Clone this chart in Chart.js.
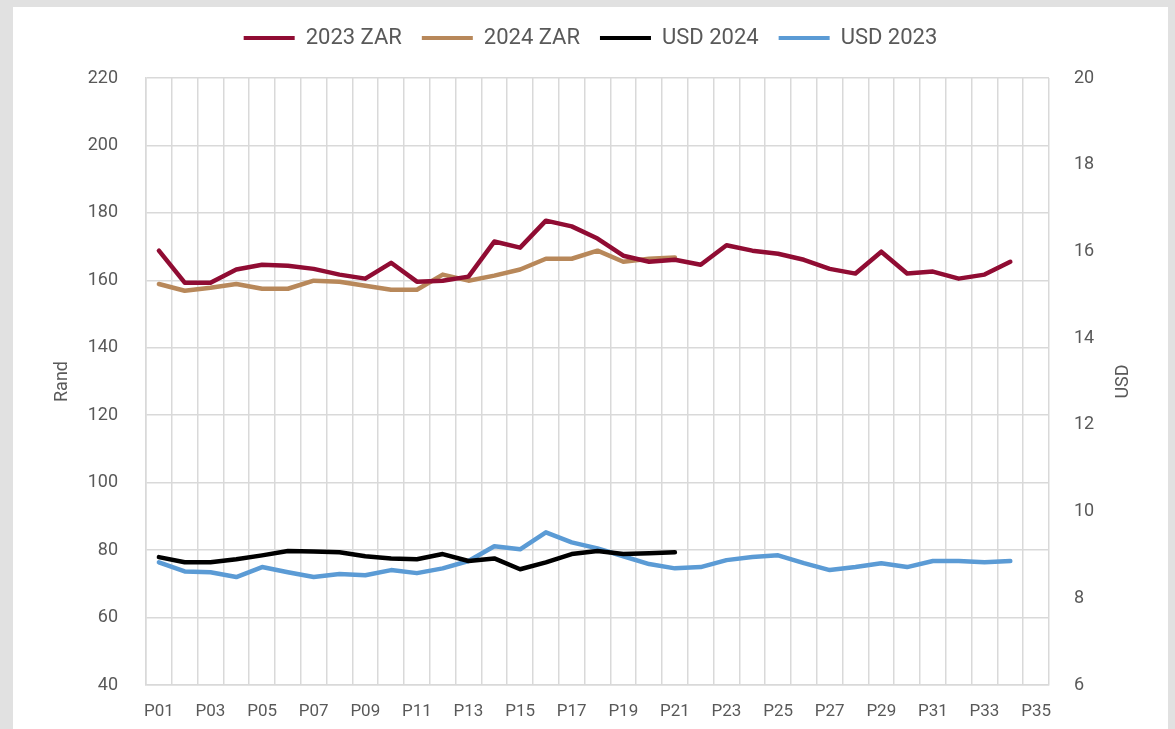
<!DOCTYPE html>
<html>
<head>
<meta charset="utf-8">
<script src="https://cdn.jsdelivr.net/npm/chart.js@4/dist/chart.umd.min.js"></script>
<style>
  body { margin: 0; background: #e1e1e1; width: 1175px; height: 729px; overflow: hidden; }
  #panel { position: absolute; left: 13px; top: 7px; width: 1155px; height: 722px; background: #fff; }
</style>
</head>
<body>
<div id="panel"><canvas id="myChart" width="1155" height="722"></canvas></div>
<script>
// periods P01..P35
var periodos = [];
for (var i = 1; i <= 35; i++) { periodos.push('P' + (i < 10 ? '0' + i : i)); }

var zar2023 = [168.8, 159.3, 159.3, 163.2, 164.6, 164.3, 163.4, 161.7, 160.5, 165.2,
               159.6, 159.9, 161.1, 171.5, 169.7, 177.7, 176.0, 172.4, 167.3, 165.5,
               166.1, 164.6, 170.4, 168.8, 167.9, 166.1, 163.4, 162.0, 168.5, 162.0,
               162.6, 160.5, 161.7, 165.5];
var zar2024 = [158.9, 156.9, 157.8, 158.9, 157.5, 157.5, 159.9, 159.6, 158.4, 157.2,
               157.2, 161.7, 159.9, 161.4, 163.2, 166.4, 166.4, 168.8, 165.5, 166.4,
               166.8];
var usd2024 = [8.95, 8.83, 8.83, 8.90, 8.99, 9.09, 9.08, 9.06, 8.97, 8.92,
               8.90, 9.02, 8.86, 8.92, 8.67, 8.83, 9.02, 9.09, 9.02, 9.04,
               9.06];
var usd2023 = [8.83, 8.62, 8.60, 8.49, 8.72, 8.60, 8.49, 8.56, 8.53, 8.65,
               8.58, 8.69, 8.86, 9.20, 9.13, 9.52, 9.29, 9.15, 8.97, 8.79,
               8.69, 8.72, 8.88, 8.95, 8.99, 8.81, 8.65, 8.72, 8.81, 8.72,
               8.86, 8.86, 8.83, 8.86];

var gris = '#595959';
var grilla = '#d9d9d9';
Chart.defaults.font.family = 'Roboto, "Liberation Sans", sans-serif';
Chart.defaults.color = gris;

// right axis title reads bottom-to-top like the left one
var tituloUSD = {
    id: 'tituloUSD',
    afterDraw: function(chart) {
        var ctx = chart.ctx;
        var area = chart.chartArea;
        ctx.save();
        ctx.translate(1110, (area.top + area.bottom) / 2);
        ctx.rotate(-Math.PI / 2);
        ctx.font = '18px Roboto';
        ctx.fillStyle = gris;
        ctx.textAlign = 'center';
        ctx.textBaseline = 'middle';
        ctx.fillText('USD', 0, 0);
        ctx.restore();
    }
};

var ctx = document.getElementById('myChart').getContext('2d');
var chart = new Chart(ctx, {
    type: 'line',
    data: {
        labels: periodos,
        datasets: [
            { label: '2023 ZAR', data: zar2023, borderColor: '#900c33', backgroundColor: '#900c33', yAxisID: 'y' },
            { label: '2024 ZAR', data: zar2024, borderColor: '#b8885a', backgroundColor: '#b8885a', yAxisID: 'y' },
            { label: 'USD 2024', data: usd2024, borderColor: '#000000', backgroundColor: '#000000', yAxisID: 'y1' },
            { label: 'USD 2023', data: usd2023, borderColor: '#5b9bd5', backgroundColor: '#5b9bd5', yAxisID: 'y1' }
        ]
    },
    options: {
        responsive: false,
        animation: false,
        layout: { padding: 0 },
        elements: {
            line: { borderWidth: 4.5, tension: 0, borderCapStyle: 'round', borderJoinStyle: 'round' },
            point: { radius: 0 }
        },
        plugins: {
            tooltip: { enabled: false },
            legend: {
                position: 'top',
                labels: {
                    boxWidth: 51,
                    boxHeight: 4,
                    padding: 20,
                    font: { size: 22 },
                    color: gris,
                    generateLabels: function(chart) {
                        var items = Chart.defaults.plugins.legend.labels.generateLabels(chart);
                        items.forEach(function(it) { it.lineWidth = 0; });
                        return items;
                    }
                }
            },
            // empty spacer under the legend
            title: { display: true, text: '', weight: 500, font: { size: 1, lineHeight: 1 }, padding: { top: 18, bottom: 0 } }
        },
        scales: {
            x: {
                offset: true,
                grid: { offset: true, color: grilla, lineWidth: 1.5, drawTicks: false },
                border: { color: grilla, width: 1.5 },
                ticks: {
                    autoSkip: false,
                    maxRotation: 0,
                    padding: 17,
                    font: { size: 17 },
                    callback: function(val, index) { return index % 2 === 0 ? this.getLabelForValue(val) : ''; }
                },
                afterFit: function(scale) { scale.height = 44; }
            },
            y: {
                position: 'left',
                min: 40, max: 220,
                ticks: { stepSize: 20, padding: 28, font: { size: 18 } },
                grid: { color: grilla, lineWidth: 1.5, drawTicks: false },
                border: { color: grilla, width: 1.5 },
                title: { display: true, text: 'Rand', font: { size: 18 }, color: gris, padding: { top: 39, bottom: 0 } },
                afterFit: function(scale) { scale.width = 133; }
            },
            y1: {
                position: 'right',
                min: 6, max: 20,
                ticks: { stepSize: 2, padding: 25, font: { size: 18 } },
                grid: { display: false, drawTicks: false },
                border: { display: false },
                afterFit: function(scale) { scale.width = 119; }
            }
        }
    },
    plugins: [tituloUSD]
});
</script>
</body>
</html>
